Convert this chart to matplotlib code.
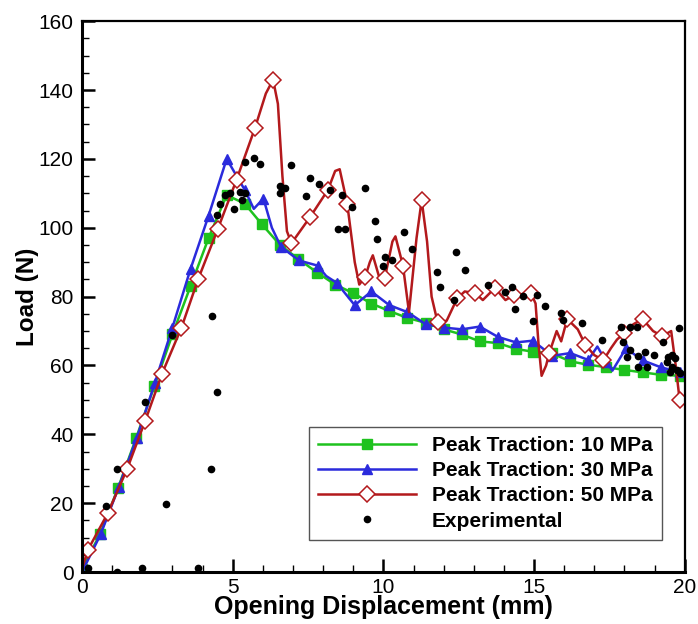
import numpy as np
import matplotlib
matplotlib.use("Agg")
import matplotlib.pyplot as plt
from matplotlib.ticker import MultipleLocator

plt.rcParams['font.family'] = ['Liberation Sans', 'DejaVu Sans']

#%% datos
# Peak traction 10 MPa (cuadrados verdes)
x10 = [0.0, 0.6, 1.2, 1.8, 2.4, 3.0, 3.6, 4.2, 4.8, 5.4, 5.97, 6.57, 7.17, 7.8, 8.4,
       9.0, 9.6, 10.2, 10.8, 11.4, 12.0, 12.6, 13.2, 13.8, 14.4, 14.96, 15.6, 16.2,
       16.8, 17.4, 18.0, 18.6, 19.2, 19.85]
y10 = [1, 11, 24.5, 39, 54, 69, 83, 97, 109.5, 107, 101, 95, 91, 87, 83.5,
       81, 78, 75.8, 73.8, 72.4, 70.5, 69, 67, 66.5, 64.8, 64, 63.5, 61.2,
       60.2, 59.5, 58.7, 58, 57.3, 57]

# Peak traction 30 MPa (triangulos azules)
x30 = [0.0, 0.62, 1.22, 1.82, 2.42, 3.0, 3.6, 4.2, 4.8, 5.4, 5.7, 6.02, 6.3, 6.6,
       7.2, 7.82, 8.1, 8.45, 9.05, 9.6, 10.2, 10.8, 11.4, 12.0, 12.6, 13.2, 13.8,
       14.4, 14.96, 15.6, 16.2, 16.8, 17.1, 17.4, 17.6, 18.05, 18.6, 19.2, 19.85]
y30 = [0, 11, 24.7, 39, 55, 71, 88, 103.5, 120, 111, 105.5, 108.5, 100, 94.5,
       90.5, 89, 86, 84, 77.5, 81.5, 77.5, 75.5, 72, 71, 70.5, 71.3, 68.3,
       66.7, 67.2, 62.8, 63.6, 61.6, 65.5, 61, 58.5, 65, 61.5, 59.5, 58]
m30 = [0, 1, 2, 3, 4, 5, 6, 7, 8, 9, 11, 13, 14, 15, 17, 18, 19, 20, 21, 22, 23,
       24, 25, 26, 27, 28, 29, 30, 31, 33, 35, 36, 37, 38]

# Peak traction 50 MPa (rombos rojos)
x50 = [0.0, 0.2, 0.85, 1.5, 2.1, 2.65, 3.3, 3.85, 4.5, 5.13, 5.74, 6.1, 6.34, 6.5, 6.65, 6.8,
       6.95, 7.56, 8.16, 8.4, 8.55, 8.8, 9.05, 9.2, 9.4, 9.55, 9.65, 9.85, 10.05, 10.3, 10.4, 10.65,
       10.85, 11.1, 11.27, 11.45, 11.6, 11.8, 12.1, 12.45, 12.7, 13.05, 13.3, 13.7, 14.05, 14.35,
       14.9, 15.05, 15.15, 15.25, 15.4, 15.5, 15.75, 15.9, 16.1, 16.45, 16.7, 17.0, 17.3,
       17.55, 17.75, 18.0, 18.3, 18.6, 18.95, 19.25, 19.55, 19.7, 19.83]
y50 = [1, 6.5, 17, 30, 44, 57.5, 71, 85, 99.5, 114, 129, 139, 143, 136, 115, 99,
       95.5, 103, 111, 116.5, 117, 107, 90, 83.5, 85.8, 90, 92, 86, 85.5, 96, 97.5, 89,
       75.5, 97, 108, 96, 80, 72.5, 73, 79.5, 81.5, 81, 79, 82.5, 79, 80.5,
       81, 78, 66, 57, 60, 63.5, 70, 67, 73.5, 70.5, 66, 63, 61.5,
       65, 67.5, 69.5, 72, 73.5, 70, 68.5, 70, 60, 50]
m50 = [1, 2, 3, 4, 5, 6, 7, 8, 9, 10, 12, 16, 17, 18, 21, 24, 28, 31, 34, 37,
       39, 41, 43, 45, 46, 51, 54, 56, 58, 61, 63, 65, 68]

# Experimental (puntos negros)
xexp = [0.2, 1.15, 2.0, 3.85, 0.8, 1.15, 2.1, 2.8, 3.0, 4.27, 4.47, 4.3,
        4.47, 4.58, 4.74, 4.9, 5.05, 5.24, 5.4, 5.3, 5.4, 5.7, 5.9,
        6.57, 6.73, 6.57, 6.93, 7.43, 7.56, 7.86, 8.23, 8.62, 8.96, 9.39,
        8.5, 8.72, 9.72, 9.8, 10.05, 10.3, 10.0, 10.7, 10.94, 11.77, 11.87,
        12.4, 12.7, 12.34, 13.47, 14.26, 14.03, 14.36, 14.63, 15.1, 15.36, 14.96,
        15.9, 15.95, 16.58, 17.25, 17.9, 18.17, 18.4, 17.94, 18.17, 18.1, 18.44,
        18.67, 18.97, 18.44, 18.74, 19.27, 19.8, 19.43, 19.57, 19.4, 19.67,
        19.57, 19.73, 19.83, 19.5]
yexp = [1.2, 0, 1.2, 1.2, 19.2, 30, 49.4, 19.8, 68.9, 30, 52.3, 74.4,
        103.8, 107, 109.6, 110.2, 105.5, 110.5, 110.2, 108, 119, 120.3, 118.5,
        112, 111.6, 110, 118.2, 109.3, 114.5, 112.6, 111, 109.6, 106, 111.6,
        99.7, 99.7, 102, 96.8, 91.6, 90.7, 89, 98.8, 93.9, 87.2, 82.8,
        93, 87.8, 79, 83.4, 82.8, 81.4, 76.4, 80.2, 80.5, 77.3, 73,
        75.3, 73.3, 72.4, 67.4, 71.2, 71.2, 71.2, 66.9, 64.5, 62.5, 62.8,
        64, 63, 59.6, 59.6, 66.9, 71, 62.5, 63, 61, 62.2,
        59.6, 58.7, 57.8, 58]

#%%
fig, ax = plt.subplots(1, 1, figsize=(6.98, 6.24), dpi=100)
fig.subplots_adjust(left=0.1175, right=0.981, bottom=0.0833, top=0.966)

ax.plot(x10, y10, '-s', color='#1ec21e', lw=1.8, markersize=6.5,
        label='Peak Traction: 10 MPa')
ax.plot(x30, y30, '-^', color='#2b2bdc', lw=1.8, markersize=7, markevery=m30,
        label='Peak Traction: 30 MPa')
ax.plot(x50, y50, '-D', color='#b3191c', lw=1.8, markersize=8, mfc='white',
        mew=1.1, markevery=m50, label='Peak Traction: 50 MPa')
ax.plot(xexp, yexp, 'o', color='black', markersize=4.5, ls='none',
        label='Experimental')

ax.set_xlim(0, 20)
ax.set_ylim(0, 160)
ax.xaxis.set_major_locator(MultipleLocator(5))
ax.xaxis.set_minor_locator(MultipleLocator(1))
ax.yaxis.set_major_locator(MultipleLocator(20))
ax.yaxis.set_minor_locator(MultipleLocator(5))
ax.tick_params(which='major', direction='in', length=9.5, width=1.8,
               labelsize=15, top=False, right=False)
ax.tick_params(which='minor', direction='in', length=5, width=1.0,
               top=False, right=False)
ax.tick_params(axis='x', pad=4)
ax.tick_params(axis='y', pad=6)
for s in ax.spines.values():
    s.set_linewidth(1.6)
ax.spines['left'].set_linewidth(2.2)
ax.spines['bottom'].set_linewidth(2.2)

ax.set_xlabel("Opening Displacement (mm)", fontsize=18, fontweight='bold', labelpad=-1)
ax.set_ylabel("Load (N)", fontsize=17.5, fontweight='bold', labelpad=0)

leg = ax.legend(loc='lower right', bbox_to_anchor=(0.962, 0.058), numpoints=1,
                handlelength=4.7, handletextpad=0.75, labelspacing=0.3,
                borderpad=0.45, borderaxespad=0, fancybox=False, framealpha=1,
                prop={'size': 15, 'weight': 'bold'})
leg.get_frame().set_edgecolor('#555555')
leg.get_frame().set_linewidth(1.0)

fig.savefig('out.png', dpi=100)
